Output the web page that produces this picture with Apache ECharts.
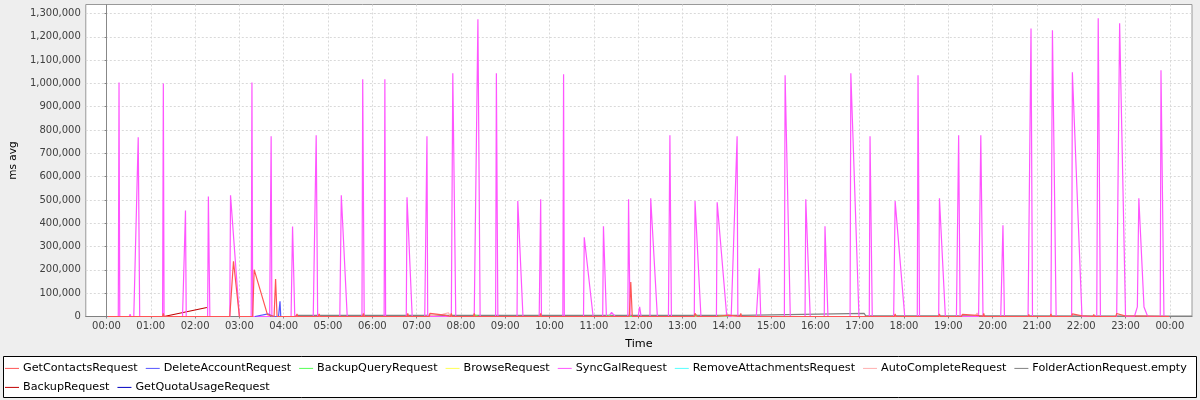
<!DOCTYPE html>
<html>
<head>
<meta charset="utf-8">
<script src="https://cdn.jsdelivr.net/npm/echarts@6/dist/echarts.min.js"></script>
<style>
html,body{margin:0;padding:0;background:#eeeeee;}
#chart{width:1200px;height:400px;}
</style>
</head>
<body>
<div id="chart"></div>
<script>
// Time in minutes from 00:00 (negative = previous evening), values in ms avg
const seriesNames = ['GetContactsRequest','DeleteAccountRequest','BackupQueryRequest','BrowseRequest','SyncGalRequest','RemoveAttachmentsRequest','AutoCompleteRequest','FolderActionRequest.empty','BackupRequest','GetQuotaUsageRequest'];
const seriesColors = ['#ff5555','#5555ff','#55ff55','#ffff55','#ff55ff','#55ffff','#ffafaf','#808080','#c00000','#0000c0'];

const xTickMinutes = [0,60,120,180,240,300,360,420,480,540,600,660,720,780,840,900,960,1020,1080,1140,1200,1260,1320,1380,1440];
const yTicks = [0,100000,200000,300000,400000,500000,600000,700000,800000,900000,1000000,1100000,1200000,1300000];

const getContactsRequest = [[2,0],[3,0],[4,4000],[5,0],[46,0],[47,8000],[48,0],[76,0],[77,13000],[78,0],[106,0],[107,8000],[108,0],[137,0],[138,8000],[139,0],
[167,0],[172,237000],[180,0],[198,0],[200,201000],[218,8000],[227,0],[229,161000],[231,0],
[257,0],[258,11000],[259,0],[287,0],[288,11000],[289,0],[347,0],[348,13000],[349,0],[407,0],[408,13000],[409,0],
[437,0],[438,13000],[458,6000],[460,0],[466,0],[467,13000],[468,0],[497,0],[498,13000],[499,0],[556,0],[557,8000],[558,0],[587,0],[588,13000],[589,0],
[708,0],[710,148000],[712,0],[796,0],[797,13000],[800,0],[826,0],[828,8000],[842,6000],[843,0],[858,0],[859,13000],[860,0],
[1067,0],[1068,11000],[1069,0],[1127,0],[1128,11000],[1129,0],[1158,0],[1159,9000],[1179,5000],[1180,0],[1187,0],[1188,13000],[1189,0],
[1248,0],[1249,9000],[1250,0],[1278,0],[1279,11000],[1280,0],[1307,0],[1308,11000],[1321,3000],[1322,0],[1336,0],[1337,9000],[1338,0],
[1367,0],[1368,13000],[1379,3000],[1380,0],[1439,0]];

const deleteAccountRequest = [[201,0],[202,8500],[219,11000],[226,0],[233,0],[235,65000],[236,0]];

const backupQueryRequest = [[497,0],[500,5000],[504,0],[676,0],[680,2500],[688,0],[795,0],[798,3000],[804,0],[827,0],[830,3000],[840,3000],[842,0]];

const browseRequest = [];

const syncGalRequest = [[2,0],[7,0],[8,4000],[9,0],[16,0],[17,1004000],[18,0],[31,0],[32,10000],[33,0],[37,0],[43,769000],[45,0],
[76,0],[77,1000000],[78,0],[103,0],[107,455000],[108,0],[137,0],[138,515000],[140,0],[151,0],[152,5000],[153,0],
[167,0],[168,520000],[180,0],[196,0],[197,1004000],[198,0],[221,0],[223,773000],[224,0],[250,0],[252,386000],[255,0],
[280,0],[284,778000],[286,0],[316,0],[318,520000],[326,0],[346,0],[347,1018000],[349,0],[376,0],[377,1018000],[378,0],
[391,0],[392,5000],[393,0],[406,0],[407,512000],[414,0],[431,0],[434,773000],[435,0],[467,0],[469,1044000],[473,0],
[498,0],[503,1275000],[506,0],[527,0],[528,1044000],[530,0],[556,0],[557,495000],[564,0],[586,0],[588,503000],[589,0],
[618,0],[619,1039000],[620,0],[646,0],[647,340000],[659,0],[672,0],[673,387000],[677,0],[680,0],[684,18000],[689,0],
[706,0],[707,503000],[709,0],[720,0],[722,41000],[724,0],[736,0],[737,507000],[746,0],[761,0],[763,778000],[765,0],
[796,0],[797,495000],[805,0],[826,0],[827,490000],[840,0],[846,0],[854,773000],[855,0],[880,0],[884,207000],[886,0],
[918,0],[919,1035000],[926,0],[946,0],[947,503000],[953,0],[972,0],[973,387000],[977,0],[1007,0],[1008,1044000],[1019,0],
[1033,0],[1034,773000],[1037,0],[1066,0],[1068,495000],[1081,0],[1098,0],[1099,1035000],[1101,0],[1127,0],[1128,507000],[1136,0],
[1151,0],[1154,778000],[1156,0],[1181,0],[1184,778000],[1187,0],[1211,0],[1214,391000],[1216,0],[1248,0],[1252,1236000],[1254,0],
[1279,0],[1281,1228000],[1286,0],[1307,0],[1308,1048000],[1321,0],[1341,0],[1343,1280000],[1346,0],[1368,0],[1372,1258000],[1380,0],
[1392,0],[1396,41000],[1398,507000],[1405,41000],[1410,0],[1427,0],[1428,1057000],[1432,0],[1439,0]];

const removeAttachmentsRequest = [];

const autoCompleteRequest = [[430,0],[440,4000],[455,9000],[463,16000],[466,0],[1176,0],[1179,15000],[1181,0]];

const folderActionRequestEmpty = [[-28,0],[255,0],[258,5000],[859,5000],[1026,13000],[1028,4000],[1440,2000],[1470,2000]];

const backupRequest = [[78,0],[136,38600]];

const getQuotaUsageRequest = [];

const seriesData = [getContactsRequest, deleteAccountRequest, backupQueryRequest, browseRequest, syncGalRequest,
  removeAttachmentsRequest, autoCompleteRequest, folderActionRequestEmpty, backupRequest, getQuotaUsageRequest];

const FONT = 'DejaVu Sans';
function pad(n){ return (n < 10 ? '0' : '') + n; }
function fmtTime(v){ const h = ((Math.round(v / 60) % 24) + 24) % 24; return pad(h) + ':00'; }
function fmtNum(v){ return String(Math.round(v)).replace(/\B(?=(\d{3})+(?!\d))/g, ','); }

// JFreeChart draws series 0 last (on top), so add series in reverse order
const series = [];
for (let i = seriesNames.length - 1; i >= 0; i--) {
  series.push({
    name: seriesNames[i],
    type: 'line',
    data: seriesData[i],
    color: seriesColors[i],
    showSymbol: false,
    symbol: 'none',
    lineStyle: { width: 1.2, color: seriesColors[i] },
    emphasis: { disabled: true },
    animation: false,
    clip: false
  });
}

const legendCommon = {
  orient: 'horizontal',
  icon: 'rect',
  itemWidth: 14,
  itemHeight: 1,
  itemGap: 8,
  padding: 0,
  selectedMode: false,
  textStyle: { fontFamily: FONT, fontSize: 11.2, color: '#000', padding: [0,0,0,-1] }
};

const chart = echarts.init(document.getElementById('chart'), null, { renderer: 'canvas' });
chart.setOption({
  backgroundColor: '#eeeeee',
  animation: false,
  graphic: [{
    type: 'rect', z: 0,
    shape: { x: 3.5, y: 356.5, width: 1193, height: 41 },
    style: { fill: '#ffffff', stroke: '#000000', lineWidth: 1 }
  }],
  legend: [
    Object.assign({}, legendCommon, { left: 5, top: 362.9, data: seriesNames.slice(0, 8) }),
    Object.assign({}, legendCommon, { left: 5, top: 381.9, data: seriesNames.slice(8) })
  ],
  grid: {
    left: 83, top: 4.5, width: 1109, height: 312,
    show: true, backgroundColor: '#ffffff', borderColor: '#999999', borderWidth: 1
  },
  xAxis: {
    type: 'value', min: -28, max: 1470,
    name: 'Time', nameLocation: 'middle', nameGap: 22,
    nameTextStyle: { fontFamily: FONT, fontSize: 11.2, color: '#000' },
    axisLine: { show: true, lineStyle: { color: '#888888' } },
    axisTick: { show: true, length: 2, customValues: xTickMinutes, lineStyle: { color: '#888888' } },
    axisLabel: { customValues: xTickMinutes, formatter: fmtTime, fontFamily: FONT, fontSize: 10, color: '#404040', margin: 5 },
    splitLine: { show: true, lineStyle: { color: '#d9d9d9', type: [2,2], width: 1 } }
  },
  yAxis: {
    type: 'value', min: 0, max: 1338600,
    name: 'ms avg', nameLocation: 'middle', nameGap: 60, nameRotate: 90,
    nameTextStyle: { fontFamily: FONT, fontSize: 10.5, color: '#000' },
    axisLine: { show: true, lineStyle: { color: '#888888' } },
    axisTick: { show: true, length: 2, customValues: yTicks, lineStyle: { color: '#888888' } },
    axisLabel: { customValues: yTicks, formatter: fmtNum, fontFamily: FONT, fontSize: 10, color: '#404040', margin: 5 },
    splitLine: { show: true, lineStyle: { color: '#d9d9d9', type: [2,2], width: 1 } }
  },
  series: series
});
</script>
</body>
</html>
